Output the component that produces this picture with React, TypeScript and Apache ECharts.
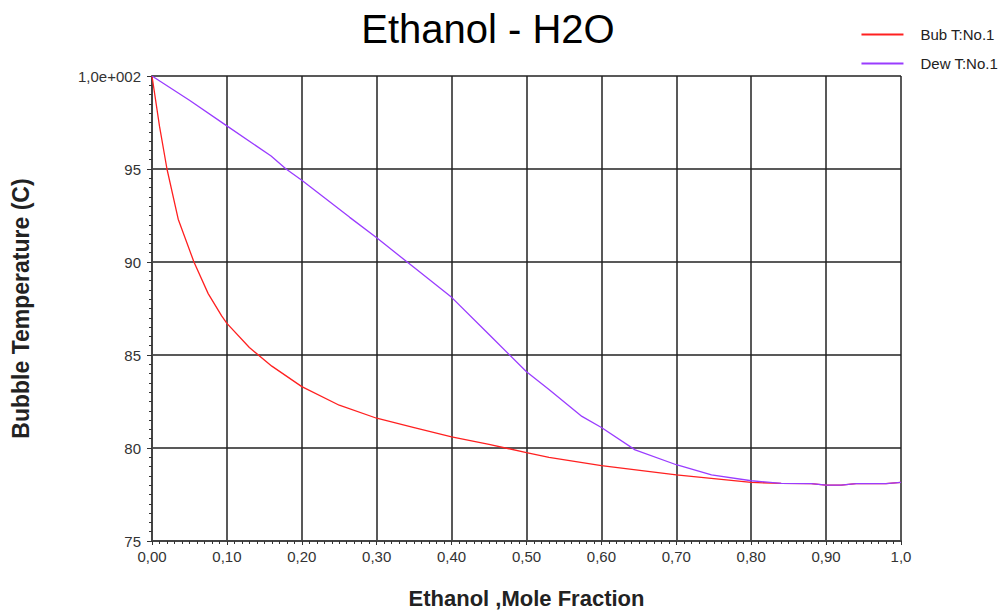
import React, { useEffect, useRef } from "react";
import * as echarts from "echarts";

const bubX = [0, 0.01, 0.02, 0.035, 0.056, 0.075, 0.093, 0.1, 0.13, 0.16, 0.2, 0.25, 0.3, 0.35, 0.4, 0.45, 0.5, 0.53, 0.6, 0.7, 0.75, 0.8, 0.84, 0.88, 0.9, 0.92, 0.94, 0.98, 1.0];
const bubT = [100, 97.3, 95.0, 92.3, 90.0, 88.3, 87.1, 86.7, 85.4, 84.4, 83.3, 82.3, 81.6, 81.1, 80.6, 80.2, 79.75, 79.5, 79.05, 78.55, 78.35, 78.15, 78.1, 78.08, 78.0, 78.0, 78.08, 78.08, 78.15];
const dewX = [0, 0.05, 0.097, 0.159, 0.179, 0.2, 0.264, 0.3, 0.35, 0.4, 0.45, 0.5, 0.53, 0.574, 0.6, 0.645, 0.7, 0.747, 0.8, 0.84, 0.88, 0.9, 0.92, 0.94, 0.98, 1.0];
const dewT = [100, 98.7, 97.4, 95.7, 95.0, 94.4, 92.4, 91.3, 89.7, 88.1, 86.1, 84.1, 83.15, 81.7, 81.1, 79.9, 79.1, 78.55, 78.24, 78.1, 78.08, 78.0, 78.0, 78.08, 78.08, 78.15];
const seriesNames = ["Bub T:No.1", "Dew T:No.1"];
const titleText = "Ethanol - H2O";
const xName = "Ethanol ,Mole Fraction";
const yName = "Bubble Temperature (C)";

export default function App() {
  const ref = useRef<HTMLDivElement>(null);
  useEffect(() => {
    const chart = echarts.init(ref.current!, null, { renderer: "svg" });
    const font = "Liberation Sans, Arial, sans-serif";
    chart.setOption({
      animation: false,
      backgroundColor: "#ffffff",
      textStyle: { fontFamily: font },
      title: {
        text: titleText,
        left: 483,
        top: 4,
        textAlign: "center",
        textStyle: { fontSize: 40, fontWeight: "normal", color: "#000", fontFamily: font },
      },
      legend: {
        orient: "vertical",
        right: 2,
        top: 22,
        itemGap: 14,
        itemWidth: 42,
        itemHeight: 2,
        icon: "rect",
        data: seriesNames,
        textStyle: { fontSize: 15, color: "#222", padding: [0, 0, 0, 12], fontFamily: font },
      },
      grid: { left: 152, right: 104, top: 76, bottom: 68, containLabel: false },
      xAxis: {
        type: "value",
        min: 0,
        max: 1,
        interval: 0.1,
        name: xName,
        nameLocation: "middle",
        nameGap: 46,
        nameTextStyle: { fontSize: 22, fontWeight: "bold", color: "#222", fontFamily: font },
        axisLine: { show: true, onZero: false, lineStyle: { color: "#444", width: 2 } },
        axisTick: { show: true, length: 4, inside: false, lineStyle: { color: "#333" } },
        minorTick: { show: true, splitNumber: 10, length: 3, lineStyle: { color: "#333" } },
        splitLine: { show: true, lineStyle: { color: "#222", width: 1.5 } },
        axisLabel: {
          fontSize: 15,
          color: "#333",
          margin: 8,
          formatter: (v: number) => (v === 1 ? "1,0" : v.toFixed(2).replace(".", ",")),
        },
      },
      yAxis: {
        type: "value",
        min: 75,
        max: 100,
        interval: 5,
        name: yName,
        nameLocation: "middle",
        nameGap: 120,
        nameTextStyle: { fontSize: 23, fontWeight: "bold", color: "#222", fontFamily: font },
        axisLine: { show: true, lineStyle: { color: "#444", width: 2 } },
        axisTick: { show: true, length: 5, lineStyle: { color: "#333" } },
        minorTick: { show: true, splitNumber: 10, length: 3, lineStyle: { color: "#333" } },
        splitLine: { show: true, lineStyle: { color: "#222", width: 1.5 } },
        axisLabel: {
          fontSize: 15,
          color: "#333",
          margin: 11,
          formatter: (v: number) => (v === 100 ? "1,0e+002" : String(v)),
        },
      },
      series: [
        {
          name: seriesNames[0],
          type: "line",
          showSymbol: false,
          symbol: "none",
          data: bubX.map((x, i) => [x, bubT[i]]),
          lineStyle: { color: "#ff2020", width: 1.3 },
          itemStyle: { color: "#ff2020" },
        },
        {
          name: seriesNames[1],
          type: "line",
          showSymbol: false,
          symbol: "none",
          data: dewX.map((x, i) => [x, dewT[i]]),
          lineStyle: { color: "#9a3cff", width: 1.3 },
          itemStyle: { color: "#9a3cff" },
        },
      ],
    });
    return () => chart.dispose();
  }, []);
  return <div ref={ref} style={{ width: 1005, height: 614, position: "absolute", left: 0, top: 0 }} />;
}
